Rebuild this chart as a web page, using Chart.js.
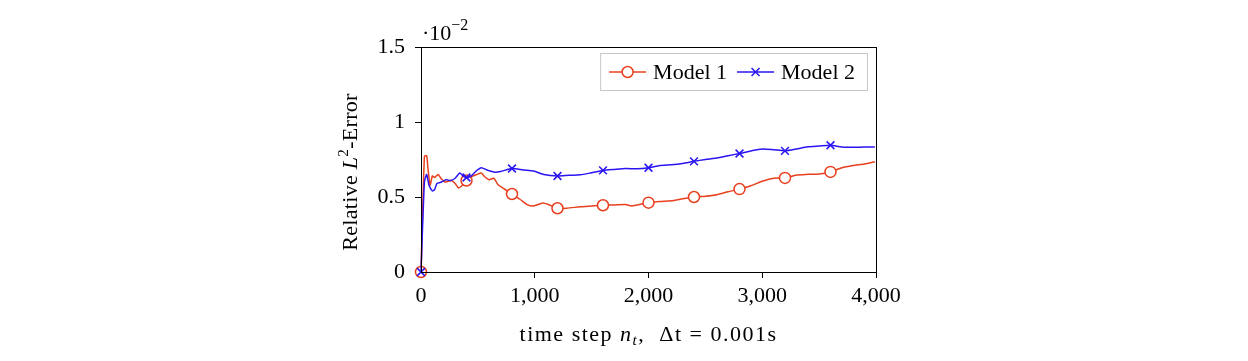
<!DOCTYPE html>
<html lang="en">
<head>
    <meta charset="UTF-8">
    <title>Relative L2 error</title>
<style>
  body { margin: 0; background: #fff; }
  #wrap { width: 1248px; height: 361px; }
</style>
</head>
<body>
<div id="wrap"><canvas id="errChart" width="1248" height="361"></canvas></div>
<script src="https://cdn.jsdelivr.net/npm/chart.js"></script>
<script>
// values (y in units of 1e-2)
const steps1 = [0, 30, 50, 60, 80, 100, 120, 150, 180, 210, 240, 270, 300, 330, 360, 400, 440, 490, 530, 560, 600, 640, 680, 730, 800, 870, 940, 990, 1070, 1120, 1200, 1280, 1400, 1500, 1600, 1700, 1800, 1850, 1900, 2000, 2100, 2200, 2300, 2400, 2500, 2600, 2700, 2800, 2900, 3000, 3100, 3200, 3300, 3400, 3500, 3600, 3700, 3800, 3900, 3990];
const model1 = [0, 0.77, 0.775, 0.70, 0.58, 0.64, 0.63, 0.65, 0.62, 0.60, 0.605, 0.61, 0.59, 0.56, 0.575, 0.61, 0.635, 0.65, 0.66, 0.635, 0.615, 0.625, 0.58, 0.555, 0.52, 0.485, 0.447, 0.44, 0.46, 0.45, 0.425, 0.425, 0.435, 0.44, 0.445, 0.447, 0.45, 0.44, 0.447, 0.462, 0.47, 0.475, 0.488, 0.50, 0.505, 0.515, 0.535, 0.553, 0.575, 0.605, 0.625, 0.627, 0.647, 0.651, 0.653, 0.667, 0.695, 0.71, 0.72, 0.735];
const steps2 = [0, 30, 50, 70, 100, 120, 140, 180, 220, 260, 300, 340, 370, 400, 440, 480, 530, 580, 650, 700, 800, 900, 990, 1080, 1200, 1300, 1400, 1500, 1600, 1700, 1800, 1900, 2000, 2100, 2200, 2300, 2400, 2500, 2600, 2700, 2800, 2900, 3000, 3100, 3200, 3300, 3400, 3500, 3600, 3700, 3800, 3900, 3990];
const model2 = [0, 0.60, 0.65, 0.58, 0.54, 0.55, 0.59, 0.60, 0.615, 0.61, 0.625, 0.66, 0.64, 0.63, 0.64, 0.67, 0.695, 0.68, 0.665, 0.67, 0.69, 0.68, 0.673, 0.65, 0.64, 0.645, 0.648, 0.662, 0.677, 0.684, 0.69, 0.688, 0.695, 0.71, 0.715, 0.724, 0.738, 0.75, 0.76, 0.775, 0.79, 0.807, 0.82, 0.815, 0.808, 0.82, 0.835, 0.84, 0.845, 0.833, 0.831, 0.833, 0.833];
const xTicks = [0, 1000, 2000, 3000, 4000];
const yTicks = [0, 0.5, 1, 1.5];

const RED = '#e8401e';
const BLUE = '#2a14f2';
const FONT = '"Liberation Serif", "DejaVu Serif", serif';
const FS = 22;

function pts(xs, ys){ return xs.map((x,i)=>({x:x, y:ys[i]})); }
function markEvery(ctx){ return (ctx.raw && ctx.raw.x % 400 === 0) ? 5.5 : 0; }

// draw text made of several styled pieces
function rich(ctx, parts, x, y, align, spacing){
    ctx.letterSpacing = (spacing || 0) + 'px';
    let w = 0;
    parts.forEach(p=>{ ctx.font = (p.it?'italic ':'') + (p.size||FS) + 'px ' + FONT; p.w = ctx.measureText(p.t).width; w += p.w; });
    let cx = align==='center' ? x - w/2 : x;
    ctx.textAlign = 'left'; ctx.textBaseline = 'alphabetic';
    parts.forEach(p=>{ ctx.font = (p.it?'italic ':'') + (p.size||FS) + 'px ' + FONT; ctx.fillText(p.t, cx, y + (p.dy||0)); cx += p.w; });
    ctx.letterSpacing = '0px';
}

const frame = {
    id: 'frame',
    afterDraw(chart){
        const c = chart.ctx, a = chart.chartArea;
        c.save();
        c.strokeStyle = '#000'; c.lineWidth = 1;
        c.strokeRect(a.left+0.5, a.top+0.5, a.right-a.left, a.bottom-a.top);
        c.fillStyle = '#000';
        // axis titles
        rich(c, [{t:'time step '},{t:'n',it:true},{t:'t',it:true,size:15,dy:4},{t:',  \u0394t = 0.001s'}], (a.left+a.right)/2, 341, 'center', 1.5);
        c.save();
        c.translate(357, 172);
        c.rotate(-Math.PI/2);
        rich(c, [{t:'Relative '},{t:'L',it:true},{t:'2',size:15,dy:-9},{t:'-Error'}], 0, 0, 'center', 0.3);
        c.restore();
        rich(c, [{t:'\u00b710'},{t:'\u22122',size:16,dy:-10}], a.left+1, 40, 'left', 0);
        // legend
        const ds = chart.data.datasets;
        c.font = FS + 'px ' + FONT;
        const lineLen = 37, gap = 7, sep = 10;
        let w = 9;
        ds.forEach((d,i)=>{ w += lineLen + gap + c.measureText(d.label).width + (i<ds.length-1?sep:0); });
        w += 12;
        const bx = a.right - 9 - w, by = a.top + 6, bh = 37;
        c.fillStyle = '#fff';
        c.fillRect(bx, by, w, bh);
        c.strokeStyle = '#c8c8c8';
        c.strokeRect(bx+0.5, by+0.5, w, bh);
        let cx = bx + 9; const cy = by + bh/2 + 0.5;
        ds.forEach((d,i)=>{
            c.strokeStyle = d.borderColor; c.lineWidth = 1.5;
            c.beginPath(); c.moveTo(cx, cy); c.lineTo(cx+lineLen, cy); c.stroke();
            const mx = cx + lineLen/2;
            c.beginPath();
            if (d.pointStyle === 'circle'){
                c.fillStyle = '#fff'; c.arc(mx, cy, 5.5, 0, Math.PI*2); c.fill(); c.stroke();
            } else {
                const r = 4;
                c.moveTo(mx-r, cy-r); c.lineTo(mx+r, cy+r); c.moveTo(mx+r, cy-r); c.lineTo(mx-r, cy+r); c.stroke();
            }
            cx += lineLen + gap;
            c.fillStyle = '#000'; c.textAlign = 'left'; c.textBaseline = 'middle';
            c.font = FS + 'px ' + FONT;
            c.fillText(d.label, cx, cy + 1);
            cx += c.measureText(d.label).width + sep;
        });
        c.restore();
    }
};

new Chart(document.getElementById('errChart').getContext('2d'), {
    type: 'line',
    data: {
        datasets: [
            {label: 'Model 1', data: pts(steps1, model1), borderColor: RED, backgroundColor: '#fff', borderWidth: 1.5,
             pointStyle: 'circle', pointRadius: markEvery, pointBorderColor: RED, pointBackgroundColor: '#fff', pointBorderWidth: 1.5,
             tension: 0.2, clip: false, order: 2},
            {label: 'Model 2', data: pts(steps2, model2), borderColor: BLUE, backgroundColor: BLUE, borderWidth: 1.5,
             pointStyle: 'crossRot', pointRadius: markEvery, pointBorderColor: BLUE, pointBorderWidth: 1.5,
             tension: 0.2, clip: false, order: 1}
        ]
    },
    options: {
        responsive: false,
        animation: false,
        events: [],
        layout: {padding: {left: 361, right: 372, top: 47, bottom: 49}},
        plugins: {legend: {display: false}, tooltip: {enabled: false}},
        scales: {
            x: {
                type: 'linear', min: 0, max: 4000,
                afterBuildTicks: s => { s.ticks = xTicks.map(v => ({value: v})); },
                afterFit: s => { s.height = 40; },
                grid: {drawOnChartArea: false, tickLength: 6, color: '#000'},
                border: {color: '#000'},
                ticks: {color: '#000', font: {family: FONT, size: FS}, padding: 5, maxRotation: 0,
                        callback: v => v.toLocaleString('en-US')}
            },
            y: {
                min: 0, max: 1.5,
                afterBuildTicks: s => { s.ticks = yTicks.map(v => ({value: v})); },
                afterFit: s => { s.width = 60; },
                grid: {drawOnChartArea: false, tickLength: 6, color: '#000'},
                border: {color: '#000'},
                ticks: {color: '#000', font: {family: FONT, size: FS}, padding: 10,
                        callback: v => String(v)}
            }
        }
    },
    plugins: [frame]
});
</script>
</body>
</html>
